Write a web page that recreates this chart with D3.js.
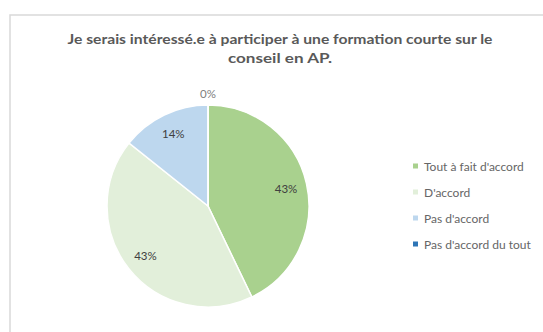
<!DOCTYPE html>
<html><head><meta charset="utf-8">
<script src="https://cdn.jsdelivr.net/npm/d3@7"></script>
<style>html,body{margin:0;padding:0;background:#fff;}svg{display:block;}</style>
</head><body>
<svg id="c" width="543" height="332"></svg>
<script>
const titleLines = ["Je serais intéressé.e à participer à une formation courte sur le", "conseil en AP."];
const categories = ["Tout à fait d'accord", "D'accord", "Pas d'accord", "Pas d'accord du tout"];
const values = [3, 3, 1, 0];
const labels = ["43%", "43%", "14%", "0%"];
const colors = ["#A9D18E", "#E2EFDA", "#BDD7EE", "#2E75B6"];

const svg = d3.select("#c");
const font = "Lato, 'Open Sans', sans-serif";

svg.append("rect").attr("x", 10).attr("y", 15).attr("width", 560).attr("height", 340)
  .attr("fill", "#fff").attr("stroke", "#D9D9D9").attr("stroke-width", 1.5);

const titleW = [425, 104];
titleLines.forEach((t, i) => {
  svg.append("text").attr("x", 280).attr("y", 44 + i * 19)
    .attr("text-anchor", "middle").attr("font-family", font).attr("font-weight", "bold")
    .attr("font-size", 13.5).attr("fill", "#595959")
    .attr("textLength", titleW[i]).attr("lengthAdjust", "spacingAndGlyphs").text(t);
});

const cx = 208, cy = 206, r = 101;
const pie = d3.pie().sort(null).value(d => d)(values);
const arc = d3.arc().innerRadius(0).outerRadius(r);
const g = svg.append("g").attr("transform", `translate(${cx},${cy})`);
g.selectAll("path").data(pie).join("path")
  .attr("d", arc).attr("fill", (d, i) => colors[i])
  .attr("stroke", "#fff").attr("stroke-width", 1.5);

const labelArc = d3.arc().innerRadius(80).outerRadius(80);
const outerArc = d3.arc().innerRadius(113).outerRadius(113);
g.selectAll("text.lbl").data(pie).join("text").attr("class", "lbl")
  .attr("transform", d => `translate(${(d.value === 0 ? outerArc : labelArc).centroid(d)})`)
  .attr("text-anchor", "middle").attr("dominant-baseline", "central")
  .attr("font-family", font).attr("font-size", 11.5)
  .attr("fill", d => d.value === 0 ? "#808080" : "#404040")
  .text((d, i) => labels[i]);

const ly = d3.scalePoint().domain(categories).range([166, 244]);
const lg = svg.append("g");
categories.forEach((c, i) => {
  lg.append("rect").attr("x", 413).attr("y", ly(c) - 2.5).attr("width", 5).attr("height", 5).attr("fill", colors[i]);
  lg.append("text").attr("x", 424).attr("y", ly(c)).attr("dominant-baseline", "central")
    .attr("font-family", font).attr("font-size", 12).attr("fill", "#666666").text(c);
});
</script>
</body></html>
